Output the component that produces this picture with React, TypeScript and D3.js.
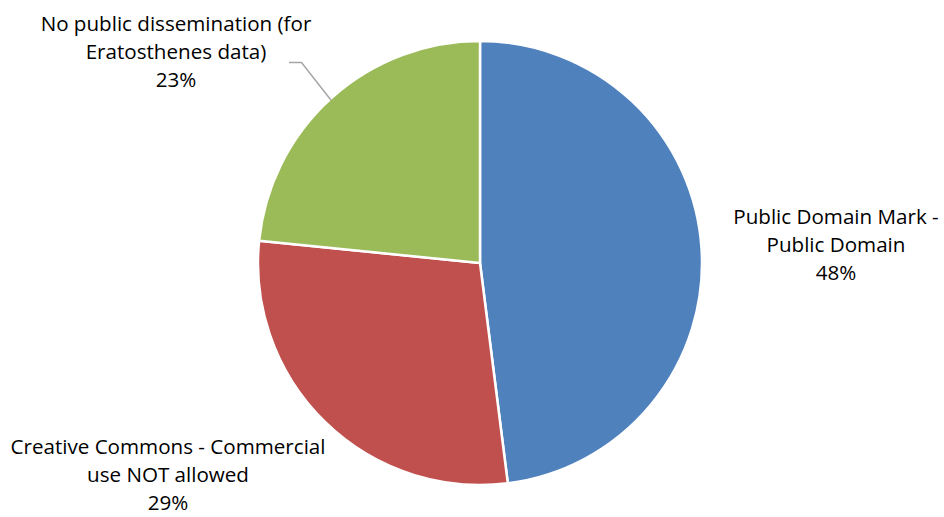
import React from "react";
import * as d3 from "d3";

const categories = [
  "Public Domain Mark - Public Domain",
  "Creative Commons - Commercial use NOT allowed",
  "No public dissemination (for Eratosthenes data)",
];
const values = [48, 28.6, 23.4];
const labelLines = [
  ["Public Domain Mark -", "Public Domain"],
  ["Creative Commons - Commercial", "use NOT allowed"],
  ["No public dissemination (for", "Eratosthenes data)"],
];
const colors = ["#4F81BD", "#C0504D", "#9BBB59"];

const W = 944;
const H = 517;
const cx = 480;
const cy = 263;
const R = 222;
// label anchor (center x, first baseline y)
const labelPos: [number, number][] = [
  [836, 224],
  [168, 454],
  [176, 31],
];

export default function App() {
  const data = categories.map((c, i) => ({ c, v: values[i], i }));
  const total = d3.sum(values);
  const pie = d3.pie<any>().sort(null).value((d) => d.v);
  const arcs = pie(data);
  const arc = d3.arc<any>().innerRadius(0).outerRadius(R);

  const g = arcs[2];
  const mid = (g.startAngle + g.endAngle) / 2;
  const ex = cx + Math.sin(mid) * R;
  const ey = cy - Math.cos(mid) * R;

  return (
    <svg
      width={W}
      height={H}
      style={{ position: "absolute", left: 0, top: 0, background: "#fff" }}
    >
      <g transform={`translate(${cx},${cy})`}>
        {arcs.map((a, i) => (
          <path
            key={i}
            d={arc(a) as string}
            fill={colors[i]}
            stroke="#fff"
            strokeWidth={2.5}
            strokeLinejoin="round"
          />
        ))}
      </g>
      <polyline
        points={`289,62.5 301.5,62.5 ${ex},${ey + 2}`}
        fill="none"
        stroke="#A6A6A6"
        strokeWidth={1.5}
      />
      {labelLines.map((lines, i) => {
        const all = [...lines, `${Math.round((values[i] / total) * 100)}%`];
        return (
          <text
            key={i}
            x={labelPos[i][0]}
            y={labelPos[i][1]}
            textAnchor="middle"
            fontFamily="'Open Sans', sans-serif"
            fontSize={20.6}
            fill="#000"
          >
            {all.map((l, j) => (
              <tspan key={j} x={labelPos[i][0]} dy={j === 0 ? 0 : 28.2}>
                {l}
              </tspan>
            ))}
          </text>
        );
      })}
    </svg>
  );
}
